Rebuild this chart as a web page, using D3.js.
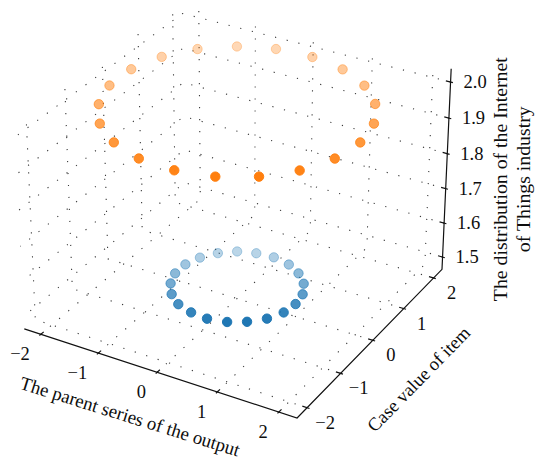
<!DOCTYPE html>
<html>
<head>
<meta charset="utf-8">
<script src="https://cdnjs.cloudflare.com/ajax/libs/d3/7.8.5/d3.min.js"></script>
<style>
  body { margin: 0; background: #fff; }
  svg { display: block; }
  text { font-family: "Liberation Serif", "Times New Roman", serif; fill: #0d0d0d; }
</style>
</head>
<body>
<div id="chart"></div>
<script>
// lower ring (blue)
const innerX = [1.00, 0.96, 0.83, 0.62, 0.37, 0.07, -0.22, -0.50, -0.73, -0.90, -0.99, -0.99, -0.90, -0.73, -0.50, -0.22, 0.07, 0.37, 0.62, 0.83, 0.96]
const innerY = [0.00, 0.29, 0.56, 0.78, 0.93, 1.00, 0.97, 0.87, 0.68, 0.43, 0.15, -0.15, -0.43, -0.68, -0.87, -0.97, -1.00, -0.93, -0.78, -0.56, -0.29]
const innerZ = [1.5, 1.5, 1.5, 1.5, 1.5, 1.5, 1.5, 1.5, 1.5, 1.5, 1.5, 1.5, 1.5, 1.5, 1.5, 1.5, 1.5, 1.5, 1.5, 1.5, 1.5]
// upper ring (orange)
const outerX = [2.00, 1.91, 1.65, 1.25, 0.73, 0.15, -0.45, -1.00, -1.47, -1.80, -1.98, -1.98, -1.80, -1.47, -1.00, -0.45, 0.15, 0.73, 1.25, 1.65, 1.91]
const outerY = [0.00, 0.59, 1.13, 1.56, 1.86, 1.99, 1.95, 1.73, 1.36, 0.87, 0.30, -0.30, -0.87, -1.36, -1.73, -1.95, -1.99, -1.86, -1.56, -1.13, -0.59]
const outerZ = [2.0, 2.0, 2.0, 2.0, 2.0, 2.0, 2.0, 2.0, 2.0, 2.0, 2.0, 2.0, 2.0, 2.0, 2.0, 2.0, 2.0, 2.0, 2.0, 2.0, 2.0]

const xTicks = [-2, -1, 0, 1, 2]
const yTicks = [-2, -1, 0, 1, 2]
const zTicks = [1.5, 1.6, 1.7, 1.8, 1.9, 2.0]
const xLim = [-2.2, 2.2]
const yLim = [-2.2, 2.2]
const zLim = [1.475, 2.025]

const xLabel = 'The parent series of the output'
const yLabel = 'Case value of item'
const zLabel = ['The distribution of the Internet', 'of Things industry']

const W = 536, H = 462

const svg = d3.select('#chart').append('svg').attr('width', W).attr('height', H)

// --- camera, same idea as mplot3d (elev 30, azim -60, perspective) ---
const dot = (a, b) => a[0] * b[0] + a[1] * b[1] + a[2] * b[2]
const cross = (a, b) => [a[1] * b[2] - a[2] * b[1], a[2] * b[0] - a[0] * b[2], a[0] * b[1] - a[1] * b[0]]
const unit = a => { const l = Math.hypot(a[0], a[1], a[2]); return a.map(c => c / l) }

const boxAspect = [4, 4, 3].map(v => v * 1.8294640721620434 / Math.hypot(4, 4, 3))
const wx = d3.scaleLinear().domain(xLim).range([0, boxAspect[0]])
const wy = d3.scaleLinear().domain(yLim).range([0, boxAspect[1]])
const wz = d3.scaleLinear().domain(zLim).range([0, boxAspect[2]])

const elev = 30 * Math.PI / 180, azim = -60 * Math.PI / 180, dist = 10
const ctr = boxAspect.map(v => v / 2)
const viewDir = [Math.cos(elev) * Math.cos(azim), Math.cos(elev) * Math.sin(azim), Math.sin(elev)]
const eye = ctr.map((c, i) => c + dist * viewDir[i])
const w = unit(viewDir)
const u = unit(cross([0, 0, 1], w))
const v = cross(w, u)

// projected plane -> pixels
const px = d3.scaleLinear().domain([0, 1]).range([237, 237 + 2625])
const py = d3.scaleLinear().domain([0, 1]).range([199.3, 199.3 - 2625])

function project(x, y, z) {
  const d = [wx(x) - eye[0], wy(y) - eye[1], wz(z) - eye[2]]
  const zv = dot(w, d)
  return { x: px(dot(u, d) / -zv), y: py(dot(v, d) / -zv), depth: 10 / zv }
}

// box edges sit a little outside the limits
const pad = lim => [lim[0] - (lim[1] - lim[0]) / 48, lim[1] + (lim[1] - lim[0]) / 48]
const xb = pad(xLim), yb = pad(yLim), zb = pad(zLim)

const line = d3.line().x(d => d.x).y(d => d.y)
const P = pts => line(pts.map(p => project(...p)))

// dotted grid on the three back panes
const grid = svg.append('g')
  .attr('fill', 'none')
  .attr('stroke', '#3a3a3a')
  .attr('stroke-width', 1.1)
  .attr('stroke-dasharray', '1.2,10.8')

xTicks.forEach(t => grid.append('path').attr('d', P([[t, yb[0], zb[0]], [t, yb[1], zb[0]], [t, yb[1], zb[1]]])))
yTicks.forEach(t => grid.append('path').attr('d', P([[xb[1], t, zb[0]], [xb[0], t, zb[0]], [xb[0], t, zb[1]]])))
zTicks.forEach(t => grid.append('path').attr('d', P([[xb[1], yb[1], t], [xb[0], yb[1], t], [xb[0], yb[0], t]])))

// axis lines
const axes = svg.append('g').attr('fill', 'none').attr('stroke', '#111').attr('stroke-width', 1.2)
axes.append('path').attr('d', P([[xb[0], yb[0], zb[0]], [xb[1], yb[0], zb[0]], [xb[1], yb[1], zb[0]], [xb[1], yb[1], zb[1]]]))

// tick marks: 0.2 of a delta inward, 0.1 outward
const dY = (yb[1] - yb[0]) / 12, dX = (xb[1] - xb[0]) / 12
xTicks.forEach(t => axes.append('path').attr('d', P([[t, yb[0] - 0.1 * dY, zb[0]], [t, yb[0] + 0.2 * dY, zb[0]]])))
yTicks.forEach(t => axes.append('path').attr('d', P([[xb[1] + 0.1 * dX, t, zb[0]], [xb[1] - 0.2 * dX, t, zb[0]]])))
zTicks.forEach(t => axes.append('path').attr('d', P([[xb[1] + 0.1 * dX, yb[1], t], [xb[1] - 0.2 * dX, yb[1], t]])))

// tick labels
const fmtInt = d3.format('d'), fmtZ = d3.format('.1f')
const labels = svg.append('g').attr('font-size', 18.5)
xTicks.forEach(t => {
  const p = project(t, yb[0], zb[0])
  labels.append('text').attr('x', p.x - 11).attr('y', p.y + 20)
    .attr('text-anchor', 'end').attr('dominant-baseline', 'central').text(fmtInt(t))
})
yTicks.forEach(t => {
  const p = project(xb[1], t, zb[0])
  labels.append('text').attr('x', p.x + 18).attr('y', p.y + 15)
    .attr('text-anchor', 'middle').attr('dominant-baseline', 'central').text(fmtInt(t))
})
zTicks.forEach(t => {
  const p = project(xb[1], yb[1], t)
  labels.append('text').attr('x', p.x + 13).attr('y', p.y)
    .attr('text-anchor', 'start').attr('dominant-baseline', 'central').text(fmtZ(t))
})

// axis titles
const angle = (a, b) => Math.atan2(b.y - a.y, b.x - a.x) * 180 / Math.PI
{
  const a = project(xb[0], yb[0], zb[0]), b = project(xb[1], yb[0], zb[0])
  const m = project(0, yb[0], zb[0])
  labels.append('text')
    .attr('transform', `translate(${m.x - 27},${m.y + 44}) rotate(${angle(a, b) - 0.8})`)
    .attr('font-size', 18.8)
    .attr('text-anchor', 'middle').attr('dominant-baseline', 'central').text(xLabel)
}
{
  const a = project(xb[1], yb[0], zb[0]), b = project(xb[1], yb[1], zb[0])
  const m = project(xb[1], 0, zb[0])
  labels.append('text')
    .attr('transform', `translate(${m.x + 46},${m.y + 39}) rotate(${angle(a, b)})`)
    .attr('text-anchor', 'middle').attr('dominant-baseline', 'central').text(yLabel)
}
{
  const m = project(xb[1], yb[1], (zLim[0] + zLim[1]) / 2)
  const t = labels.append('text')
    .attr('transform', `translate(${m.x + 65},${m.y + 8}) rotate(-90)`)
    .attr('font-size', 19.8)
    .attr('text-anchor', 'middle')
  zLabel.forEach((s, i) => t.append('tspan').attr('x', 0).attr('y', (i - 0.5) * 23)
    .attr('dominant-baseline', 'central').text(s))
}

// scatter rings with depth shading (far points fade to 30%)
function ring(xs, ys, zs, color) {
  const pts = xs.map((x, i) => project(x, ys[i], zs[i]))
  const shade = d3.scaleLinear().domain(d3.extent(pts, p => p.depth)).range([1, 0.3])
  pts.forEach(p => { p.alpha = shade(p.depth) })
  pts.sort((a, b) => b.depth - a.depth)
  svg.append('g').selectAll('circle').data(pts).join('circle')
    .attr('cx', d => d.x).attr('cy', d => d.y).attr('r', 4.7)
    .attr('fill', color).attr('fill-opacity', d => d.alpha)
    .attr('stroke', color).attr('stroke-opacity', d => d.alpha).attr('stroke-width', 1)
}
ring(outerX, outerY, outerZ, '#ff7f0e')
ring(innerX, innerY, innerZ, '#1f77b4')
</script>
</body>
</html>
